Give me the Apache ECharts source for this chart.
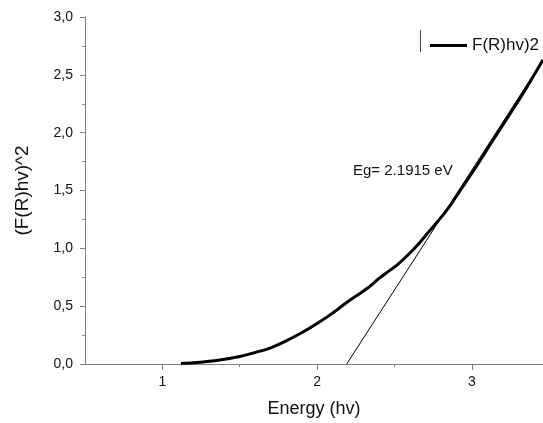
<!DOCTYPE html>
<html>
<head>
<meta charset="utf-8">
<script src="https://cdn.jsdelivr.net/npm/echarts@6/dist/echarts.min.js"></script>
<style>
  html, body { margin: 0; padding: 0; background: #fff; }
  #chart { width: 543px; height: 423px; }
</style>
</head>
<body>
<div id="chart"></div>
<script>
  // F(R)hv^2 curve
  var energy = [1.12, 1.2, 1.35, 1.5, 1.6, 1.7, 1.8, 1.9, 2.0, 2.1, 2.2, 2.32, 2.4, 2.45, 2.52, 2.6, 2.67, 2.72, 2.79, 2.86, 2.92, 3.03, 3.12, 3.26, 3.35, 3.46];
  var frhv2 = [0.005, 0.01, 0.03, 0.065, 0.1, 0.14, 0.2, 0.27, 0.35, 0.44, 0.54, 0.65, 0.74, 0.79, 0.86, 0.96, 1.06, 1.14, 1.25, 1.37, 1.49, 1.71, 1.9, 2.19, 2.38, 2.63];

  // tangent (Tauc) line
  var tangentX = [2.1915, 3.46];
  var tangentY = [0, 2.63];

  var xMajorTicks = [1, 2, 3];
  var xMinorTicks = [1.5, 2.5];

  var seriesName = 'F(R)hv)2';
  var egLabel = 'Eg= 2.1915 eV';

  var font = 'Arial, "Liberation Sans", sans-serif';

  var curve = energy.map(function (e, i) { return [e, frhv2[i]]; });
  var tangent = tangentX.map(function (e, i) { return [e, tangentY[i]]; });

  var chart = echarts.init(document.getElementById('chart'));

  var option = {
    animation: false,
    textStyle: { fontFamily: font },
    grid: { left: 85, right: 0, top: 17, bottom: 57 },
    legend: {
      left: 425,
      top: 32,
      icon: 'rect',
      itemWidth: 37,
      itemHeight: 3,
      itemGap: 5,
      data: [seriesName],
      textStyle: { fontFamily: font, fontSize: 17, color: '#111' }
    },
    xAxis: [{
      type: 'value',
      min: 0.5,
      max: 3.46,
      name: 'Energy (hv)',
      nameLocation: 'middle',
      nameGap: 36,
      nameTextStyle: { fontFamily: font, fontSize: 18, color: '#111' },
      splitLine: { show: false },
      axisLine: { lineStyle: { color: '#808080', width: 1 } },
      axisTick: { customValues: xMajorTicks, length: 6, lineStyle: { color: '#808080' } },
      axisLabel: { customValues: xMajorTicks, fontSize: 14, color: '#111', margin: 11 }
    }, {
      type: 'value',
      min: 0.5,
      max: 3.46,
      position: 'bottom',
      splitLine: { show: false },
      axisLine: { show: false },
      axisTick: { customValues: xMinorTicks, length: 3, lineStyle: { color: '#808080' } },
      axisLabel: { show: false }
    }],
    yAxis: {
      type: 'value',
      min: 0,
      max: 3,
      interval: 0.5,
      name: '(F(R)hv)^2',
      nameLocation: 'middle',
      nameGap: 53,
      nameTextStyle: { fontFamily: font, fontSize: 19, color: '#111' },
      splitLine: { show: false },
      axisLine: { show: true, lineStyle: { color: '#808080', width: 1 } },
      axisTick: { show: true, length: 5, lineStyle: { color: '#808080' } },
      minorTick: { show: true, splitNumber: 2, length: 3, lineStyle: { color: '#999' } },
      axisLabel: {
        fontSize: 14,
        color: '#111',
        margin: 12,
        formatter: function (v) { return v.toFixed(1).replace('.', ','); }
      }
    },
    series: [{
      name: seriesName,
      type: 'line',
      data: curve,
      smooth: 0.3,
      showSymbol: false,
      symbol: 'none',
      color: '#000',
      lineStyle: { color: '#000', width: 3 }
    }, {
      name: 'tangent',
      type: 'line',
      data: tangent,
      showSymbol: false,
      symbol: 'none',
      color: '#000',
      lineStyle: { color: '#000', width: 1 }
    }],
    graphic: [{
      type: 'rect',
      shape: { x: 420, y: 30, width: 1, height: 22 },
      style: { fill: '#444' }
    }, {
      type: 'text',
      left: 353,
      top: 163,
      style: { text: egLabel, font: '15px ' + font, fill: '#111' }
    }]
  };

  chart.setOption(option);
</script>
</body>
</html>
